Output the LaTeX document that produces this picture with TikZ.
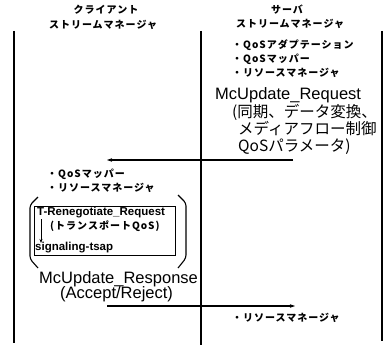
\documentclass[tikz,border=0pt]{standalone}
\usepackage{fontspec}
\setmainfont{Liberation Sans}
\newfontfamily\jp[LetterSpace=10]{Noto Sans CJK JP}
\newfontfamily\jpl{Noto Sans CJK JP}
\usetikzlibrary{arrows.meta}
\begin{document}
\begin{tikzpicture}[x=1pt,y=-1pt,
  small/.style={font=\jp\bfseries\fontsize{10}{12}\selectfont, inner sep=0pt},
  big/.style={font=\fontsize{16.5}{18}\selectfont, inner sep=0pt},
  bigjp/.style={font=\jpl\fontsize{15.5}{18}\selectfont, inner sep=0pt},
  boxt/.style={font=\bfseries\fontsize{11.5}{13}\selectfont, inner sep=0pt},
  life/.style={line width=1.2pt},
  brk/.style={line width=1.1pt, rounded corners=3pt},
  msg/.style={line width=1.1pt,-{Stealth[length=5pt,width=3.5pt]}}]
\useasboundingbox (0,0) rectangle (388,345);
% lifelines
\coordinate (Lt) at (14,31); \coordinate (Lb) at (14,343);
\coordinate (Mt) at (201,31); \coordinate (Mb) at (201,345);
\coordinate (Rt) at (382,31); \coordinate (Rb) at (382,341);
\draw[life] (Lt) -- (Lb);
\draw[life] (Mt) -- (Mb);
\draw[life] (Rt) -- (Rb);
% headers
\node[small] (h1) at (106,10) {クライアント};
\node[small] (h2) at (103,25) {ストリームマネージャ};
\node[small] (h3) at (287,10) {サーバ};
\node[small] (h4) at (290,24) {ストリームマネージャ};
% server side
\node[small,anchor=west] (s1) at (232,45) {・QoSアダプテーション};
\node[small,anchor=west] (s2) at (232,59) {・QoSマッパー};
\node[small,anchor=west] (s3) at (232,73) {・リソースマネージャ};
\node[big,anchor=west] (req) at (215,95) {McUpdate\_Request};
\node[bigjp,anchor=west] (r1) at (232,112) {(同期、データ変換、};
\node[bigjp,anchor=west] (r2) at (238,129) {メディアフロー制御};
\node[bigjp,anchor=west] (r3) at (238,147) {QoSパラメータ)};
% request arrow
\coordinate (a1s) at (293,160); \coordinate (a1e) at (107,160);
\draw[msg] (a1s) -- (a1e);
% client side
\node[small,anchor=west] (c1) at (47,174) {・QoSマッパー};
\node[small,anchor=west] (c2) at (47,188) {・リソースマネージャ};
% box
\node[draw, line width=1.2pt, minimum width=141, minimum height=49, anchor=north west, inner sep=0pt] (box) at (34,206) {};
\node[boxt,anchor=west] (tr) at (37,213) {T-Renegotiate\_Request};
\node[small,anchor=west] (tq) at (50,226) {(トランスポートQoS)};
\node[boxt,anchor=west] (sg) at (35,248) {signaling-tsap};
\coordinate (d1) at (41,219); \coordinate (d2) at (41,243);
\draw[line width=0.8pt,-{Stealth[length=4pt,width=3pt]}] (d1) -- (d2);
% brackets
\draw[brk] (38,197) -- (30,205) -- (30,259) -- (38,268);
\draw[brk] (178,195) -- (186,203) -- (186,258) -- (178,268);
% response
\node[big,anchor=west] (resp) at (39,279) {McUpdate\_Response};
\node[big,anchor=west] (acc) at (60,294) {(Accept/Reject)};
\coordinate (a2s) at (107,306); \coordinate (a2e) at (295,306);
\draw[msg] (a2s) -- (a2e);
\node[small,anchor=west] (b1) at (232,318) {・リソースマネージャ};
\end{tikzpicture}
\end{document}
